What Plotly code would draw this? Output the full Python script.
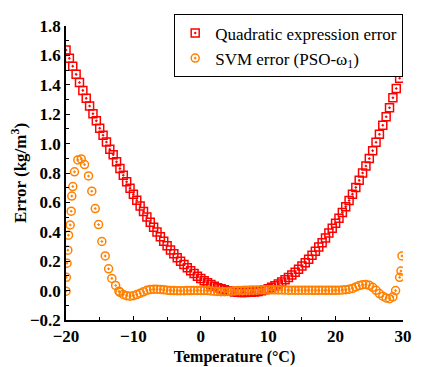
import plotly.graph_objects as go

# Quadratic expression error, every 0.5 degC from -20 to 30
quad_t = [-20 + 0.5 * i for i in range(101)]
quad_err = [1.637, 1.580, 1.527, 1.471, 1.416, 1.362, 1.308, 1.256, 1.203, 1.155,
            1.105, 1.057, 1.011, 0.961, 0.924, 0.876, 0.830, 0.785, 0.740, 0.697,
            0.655, 0.615, 0.576, 0.538, 0.501, 0.465, 0.431, 0.398, 0.366, 0.335,
            0.305, 0.277, 0.250, 0.224, 0.200, 0.177, 0.155, 0.135, 0.116, 0.098,
            0.082, 0.067, 0.053, 0.041, 0.030, 0.020, 0.012, 0.005, -0.001, -0.005,
            -0.009, -0.011, -0.013, -0.013, -0.012, -0.011, -0.009, -0.006, -0.001, 0.005,
            0.013, 0.022, 0.033, 0.045, 0.058, 0.073, 0.089, 0.106, 0.125, 0.146,
            0.168, 0.190, 0.214, 0.240, 0.267, 0.296, 0.326, 0.358, 0.391, 0.425,
            0.458, 0.493, 0.532, 0.571, 0.613, 0.656, 0.702, 0.750, 0.800, 0.848,
            0.898, 0.952, 1.009, 1.064, 1.125, 1.183, 1.244, 1.312, 1.375, 1.445,
            1.515]

# SVM error (PSO-w1)
svm_t = [-20.0, -19.95, -19.85, -19.73, -19.63, -19.38, -19.23, -19.14, -18.99, -18.74,
         -18.25, -17.74, -17.25, -16.66, -16.17, -15.66, -15.17, -14.68, -14.18, -13.68,
         -13.2, -12.64, -12.15,
         -12.0, -11.5, -11.0, -10.5, -10.0, -9.5, -9.0, -8.5, -8.0, -7.5,
         -7.0, -6.5, -6.0, -5.5, -5.0, -4.5, -4.0, -3.5, -3.0, -2.5,
         -2.0, -1.5, -1.0, -0.5, 0.0, 0.5, 1.0, 1.5, 2.0, 2.5,
         3.0, 3.5, 4.0, 4.5, 5.0, 5.5, 6.0, 6.5, 7.0, 7.5,
         8.0, 8.5, 9.0, 9.5, 10.0, 10.5, 11.0, 11.5, 12.0, 12.5,
         13.0, 13.5, 14.0, 14.5, 15.0, 15.5, 16.0, 16.5, 17.0, 17.5,
         18.0, 18.5, 19.0, 19.5, 20.0, 20.5, 21.0, 21.5, 22.0, 22.5,
         23.0, 23.5, 24.0, 24.5, 25.0, 25.5, 26.0, 26.5, 27.0, 27.5,
         28.0, 28.5, 28.9, 29.5, 29.7, 29.85]
svm_err = [-0.004, 0.09, 0.186, 0.275, 0.377, 0.447, 0.54, 0.643, 0.708, 0.808,
           0.889, 0.896, 0.857, 0.78, 0.676, 0.558, 0.449, 0.334, 0.236, 0.148,
           0.083, 0.035, -0.004,
           -0.012, -0.026, -0.035, -0.038, -0.035, -0.027, -0.018, -0.008, 0.002, 0.008,
           0.010, 0.010, 0.008, 0.006, 0.003, 0.001, 0.0, -0.001, -0.001, -0.001,
           0.0, 0.0, 0.001, 0.001, 0.001, 0.0, 0.0, -0.002, -0.004, -0.006,
           -0.007, -0.007, -0.006, -0.004, -0.002, 0.0, 0.001, 0.002, 0.003, 0.004,
           0.004, 0.004, 0.005, 0.005, 0.005, 0.005, 0.005, 0.004, 0.004, 0.004,
           0.003, 0.003, 0.003, 0.003, 0.003, 0.003, 0.003, 0.002, 0.002, 0.002,
           0.002, 0.002, 0.002, 0.002, 0.002, 0.003, 0.004, 0.006, 0.010, 0.015,
           0.025, 0.034, 0.040, 0.041, 0.036, 0.022, 0.002, -0.02, -0.038, -0.050,
           -0.055, -0.042, 0.0, 0.09, 0.133, 0.236]

serif = "Liberation Serif, Times New Roman, serif"

fig = go.Figure()
fig.add_trace(go.Scatter(x=quad_t, y=quad_err, mode="markers", name="Quadratic expression error",
                         marker=dict(symbol="square-open-dot", size=8, color="#FF0000",
                                     line=dict(width=1.5, color="#FF0000"))))
fig.add_trace(go.Scatter(x=svm_t, y=svm_err, mode="markers", name="SVM error (PSO-ω<sub>1</sub>)",
                         marker=dict(symbol="circle-open-dot", size=8, color="#FF8000",
                                     line=dict(width=1.5, color="#FF8000"))))

tick_font = dict(family=serif, size=17, color="black", weight="bold")
fig.update_xaxes(range=[-20, 30], dtick=10, tick0=-20, showline=True, linecolor="black", linewidth=1.5,
                 ticks="inside", ticklen=4, tickwidth=1.2, tickcolor="black", showgrid=False, zeroline=False,
                 minor=dict(ticks="inside", ticklen=3, dtick=5, tickcolor="black", showgrid=False),
                 tickfont=tick_font, automargin=False,
                 title=dict(text="<b>Temperature (°C)</b>", font=dict(family=serif, size=16, color="black"),
                            standoff=6))
fig.update_yaxes(range=[-0.2, 1.8], dtick=0.2, tick0=0, tickformat=".1f", showline=True, linecolor="black",
                 linewidth=1.5, ticks="inside", ticklen=4, tickwidth=1.2, tickcolor="black",
                 showgrid=False, zeroline=False,
                 minor=dict(ticks="inside", ticklen=3, dtick=0.1, tickcolor="black", showgrid=False),
                 tickfont=tick_font, automargin=False,
                 title=dict(text="<b>Error (kg/m<sup>3</sup>)</b>", font=dict(family=serif, size=17, color="black"),
                            standoff=4))

# page body has an 8px margin, so the figure is 8px smaller than the window
fig.update_layout(width=419, height=359, margin=dict(l=58, r=24, t=6, b=47),
                  plot_bgcolor="white", paper_bgcolor="white",
                  font=dict(family=serif, color="black"),
                  legend=dict(x=1.0, y=1.04, xanchor="right", yanchor="top", bgcolor="white",
                              bordercolor="black", borderwidth=1.2, itemwidth=30, tracegroupgap=0,
                              font=dict(family=serif, size=17, color="black")))

fig.write_html("out.html")
